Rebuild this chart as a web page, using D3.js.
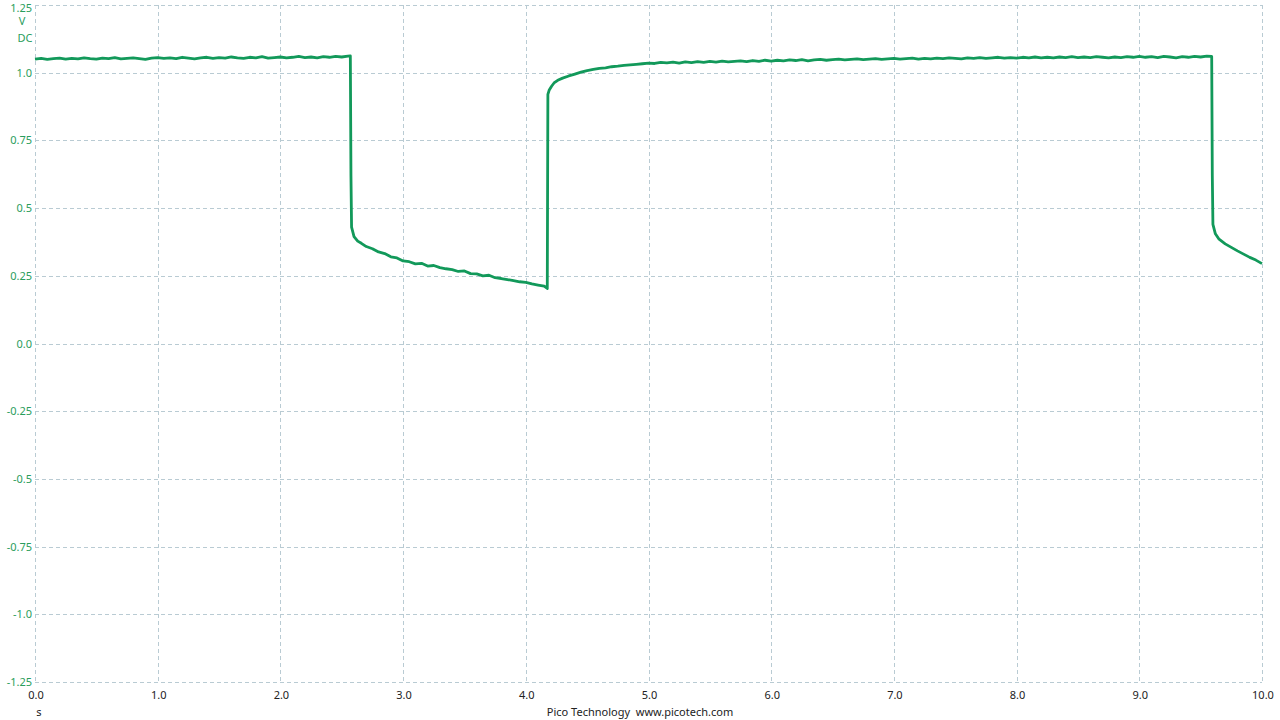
<!DOCTYPE html>
<html><head><meta charset="utf-8">
<script src="https://cdn.jsdelivr.net/npm/d3@7"></script>
<style>
html,body{margin:0;padding:0;background:#fff;}
svg{display:block;}
text{font-family:"Noto Sans","DejaVu Sans",sans-serif;font-size:11px;}
</style></head>
<body>
<svg id="chart" width="1280" height="720"></svg>
<script>
// Tick labels
const yTicks = [1.25, 1.0, 0.75, 0.5, 0.25, 0.0, -0.25, -0.5, -0.75, -1.0, -1.25];
const yTickLabels = ["1.25","1.0","0.75","0.5","0.25","0.0","-0.25","-0.5","-0.75","-1.0","-1.25"];
const xTicks = [0,1,2,3,4,5,6,7,8,9,10];
const xTickLabels = ["0.0","1.0","2.0","3.0","4.0","5.0","6.0","7.0","8.0","9.0","10.0"];

// Trace (time s, volts)
const seg1 = [[0.00,1.050],[0.05,1.053],[0.10,1.049],[0.15,1.052],[0.20,1.054],[0.25,1.050],[0.30,1.053],[0.35,1.051],[0.40,1.055],[0.45,1.052],
[0.50,1.050],[0.55,1.054],[0.60,1.052],[0.65,1.056],[0.70,1.051],[0.75,1.053],[0.80,1.055],[0.85,1.052],[0.90,1.049],[0.95,1.054],
[1.00,1.056],[1.05,1.053],[1.10,1.055],[1.15,1.052],[1.20,1.057],[1.25,1.054],[1.30,1.051],[1.35,1.055],[1.40,1.057],[1.45,1.053],
[1.50,1.056],[1.55,1.054],[1.60,1.058],[1.65,1.055],[1.70,1.053],[1.75,1.057],[1.80,1.055],[1.85,1.059],[1.90,1.054],[1.95,1.056],
[2.00,1.058],[2.05,1.055],[2.10,1.057],[2.15,1.060],[2.20,1.056],[2.25,1.058],[2.30,1.055],[2.35,1.059],[2.40,1.057],[2.45,1.060],
[2.50,1.058],[2.55,1.061],[2.57,1.062]];
const seg2 = [[2.575,0.620],[2.58,0.430],[2.60,0.395],[2.63,0.378],[2.66,0.370],[2.70,0.358],[2.75,0.350],[2.80,0.338],[2.85,0.332],[2.90,0.320],
[2.95,0.316],[3.00,0.305],[3.05,0.302],[3.10,0.294],[3.15,0.296],[3.20,0.286],[3.25,0.288],[3.30,0.280],[3.35,0.276],[3.40,0.273],
[3.45,0.266],[3.50,0.268],[3.55,0.258],[3.60,0.257],[3.65,0.250],[3.70,0.252],[3.75,0.243],[3.80,0.240],[3.85,0.236],[3.90,0.232],
[3.95,0.228],[4.00,0.226],[4.05,0.220],[4.10,0.216],[4.15,0.212],[4.175,0.203]];
const seg3 = [[4.18,0.920],[4.19,0.935],[4.21,0.950],[4.23,0.962],[4.26,0.972],[4.30,0.980],[4.35,0.988],[4.40,0.995],[4.45,1.002],[4.50,1.008],
[4.55,1.012],[4.60,1.016],[4.65,1.018],[4.70,1.022],[4.75,1.024],[4.80,1.027],[4.85,1.029],[4.90,1.031],[4.95,1.033],[5.00,1.035],
[5.05,1.034],[5.10,1.038],[5.15,1.036],[5.20,1.039],[5.25,1.035],[5.30,1.040],[5.35,1.037],[5.40,1.041],[5.45,1.038],[5.50,1.042],
[5.55,1.039],[5.60,1.043],[5.65,1.040],[5.70,1.042],[5.75,1.044],[5.80,1.041],[5.85,1.045],[5.90,1.042],[5.95,1.046],[6.00,1.043],
[6.05,1.046],[6.10,1.044],[6.15,1.047],[6.20,1.045],[6.25,1.048],[6.30,1.044],[6.35,1.047],[6.40,1.049],[6.45,1.046],[6.50,1.048],
[6.55,1.050],[6.60,1.047],[6.65,1.049],[6.70,1.051],[6.75,1.048],[6.80,1.050],[6.85,1.052],[6.90,1.049],[6.95,1.051],[7.00,1.053],
[7.05,1.050],[7.10,1.052],[7.15,1.054],[7.20,1.050],[7.25,1.053],[7.30,1.051],[7.35,1.054],[7.40,1.052],[7.45,1.055],[7.50,1.053],
[7.55,1.051],[7.60,1.055],[7.65,1.053],[7.70,1.056],[7.75,1.053],[7.80,1.055],[7.85,1.057],[7.90,1.054],[7.95,1.056],[8.00,1.054],
[8.05,1.057],[8.10,1.055],[8.15,1.058],[8.20,1.055],[8.25,1.057],[8.30,1.055],[8.35,1.058],[8.40,1.056],[8.45,1.059],[8.50,1.056],
[8.55,1.058],[8.60,1.056],[8.65,1.059],[8.70,1.057],[8.75,1.055],[8.80,1.058],[8.85,1.056],[8.90,1.059],[8.95,1.057],[9.00,1.060],
[9.05,1.057],[9.10,1.059],[9.15,1.056],[9.20,1.060],[9.25,1.058],[9.30,1.055],[9.35,1.059],[9.40,1.057],[9.45,1.060],[9.50,1.058],
[9.55,1.061],[9.59,1.060]];
const seg4 = [[9.595,0.620],[9.60,0.440],[9.62,0.405],[9.65,0.385],[9.70,0.368],[9.75,0.355],[9.80,0.342],[9.85,0.330],[9.90,0.318],[9.95,0.308],[10.00,0.295]];
const trace = seg1.concat(seg2, seg3, seg4);

const svg = d3.select("#chart");
const plotL = 35, plotR = 1262, plotT = 5, plotB = 682;
const x = d3.scaleLinear().domain([0,10]).range([plotL,plotR]);
const y = d3.scaleLinear().domain([-1.25,1.25]).range([plotB,plotT]);

const gridColor = "#b9cbd3";
const grid = svg.append("g");
grid.selectAll("line.h").data(yTicks).join("line").attr("class","h")
  .attr("x1",plotL).attr("x2",plotR)
  .attr("y1",d=>Math.round(y(d))+0.5).attr("y2",d=>Math.round(y(d))+0.5)
  .attr("stroke",gridColor).attr("stroke-dasharray","4,3");
grid.selectAll("line.v").data(xTicks).join("line").attr("class","v")
  .attr("y1",plotT).attr("y2",plotB)
  .attr("x1",d=>Math.round(x(d))+0.5).attr("x2",d=>Math.round(x(d))+0.5)
  .attr("stroke",gridColor).attr("stroke-dasharray","4,3");

// Y axis labels
const labelGreen = "#2a9d5c";
svg.append("g").selectAll("text").data(yTicks).join("text")
  .attr("x",32).attr("y",d=>Math.max(y(d)+4, 12)).attr("text-anchor","end")
  .attr("fill",labelGreen).text((d,i)=>yTickLabels[i]);
svg.append("text").attr("x",22).attr("y",25).attr("text-anchor","middle").attr("fill",labelGreen).text("V");
svg.append("text").attr("x",25).attr("y",42).attr("text-anchor","middle").attr("fill",labelGreen).text("DC");

// X axis labels
svg.append("g").selectAll("text").data(xTicks).join("text")
  .attr("x",d=>x(d)+1).attr("y",699).attr("text-anchor","middle")
  .attr("fill","#222").text((d,i)=>xTickLabels[i]);
svg.append("text").attr("x",39).attr("y",716).attr("text-anchor","middle").attr("fill","#222").text("s");
svg.append("text").attr("x",640).attr("y",716).attr("text-anchor","middle").attr("fill","#222")
  .style("white-space","pre").text("Pico Technology  www.picotech.com");

// Trace
const line = d3.line().x(d=>x(d[0])).y(d=>y(d[1]));
svg.append("path").datum(trace).attr("d",line)
  .attr("fill","none").attr("stroke","#12995a").attr("stroke-width",2.8)
  .attr("stroke-linejoin","round");
</script>
</body></html>
